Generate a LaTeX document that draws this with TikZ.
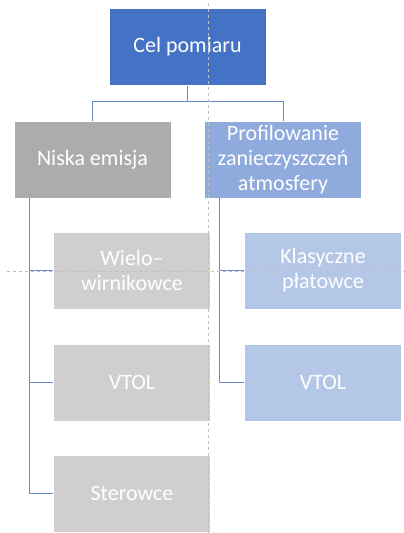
\documentclass[tikz,border=0pt]{standalone}
\usepackage{fontspec}
\setmainfont{Carlito}
\usetikzlibrary{positioning}

\definecolor{topblue}{HTML}{4472C4}
\definecolor{midgray}{HTML}{AEABAB}
\definecolor{midblue}{HTML}{8FAADC}
\definecolor{lightgray}{HTML}{D0CECE}
\definecolor{lightblue}{HTML}{B4C7E7}
\definecolor{linkblue}{HTML}{6A8BCB}
\definecolor{guidegray}{HTML}{BFBFBF}

\begin{document}
\begin{tikzpicture}[x=1pt,y=-1pt,
	box/.style={draw=white,line width=0.4pt,minimum width=157pt,minimum height=77pt,inner sep=2pt,
		align=center,text=white,font=\fontsize{22}{25}\selectfont},
	conn/.style={draw=linkblue,line width=0.9pt},
	guide/.style={draw=guidegray,line width=1pt,dash pattern=on 3pt off 3pt}]
	\useasboundingbox (0,0) rectangle (404,533);
	% Top level
	\node[box,fill=topblue] (cel) at (187.5,47) {Cel pomiaru};
	% Second level
	\node[box,fill=midgray] (niska) at (92.5,159.5) {Niska emisja};
	\node[box,fill=midblue] (prof) at (283,159.5) {Profilowanie\\zanieczyszczeń\\atmosfery};
	% Third level, left
	\node[box,fill=lightgray] (wielo) at (132,270.5) {Wielo–\\wirnikowce};
	\node[box,fill=lightgray] (vtolL) at (132,382.5) {VTOL};
	\node[box,fill=lightgray] (ster) at (132,493.5) {Sterowce};
	% Third level, right
	\node[box,fill=lightblue] (klas) at (323,270.5) {Klasyczne\\płatowce};
	\node[box,fill=lightblue] (vtolR) at (323,382.5) {VTOL};
	% Connectors
	\draw[conn] (cel.south) -- ++(0,16) -| (niska.north);
	\draw[conn] (cel.south) -- ++(0,16) -| (prof.north);
	\draw[conn] ([xshift=16pt]niska.south west) |- (wielo.west);
	\draw[conn] ([xshift=16pt]niska.south west) |- (vtolL.west);
	\draw[conn] ([xshift=16pt]niska.south west) |- (ster.west);
	\draw[conn] ([xshift=15pt]prof.south west) |- (klas.west);
	\draw[conn] ([xshift=15pt]prof.south west) |- (vtolR.west);
	% Guides
	\draw[guide] (208,3) -- (208,533);
	\draw[guide] (7,271) -- (404,271);
\end{tikzpicture}
\end{document}
